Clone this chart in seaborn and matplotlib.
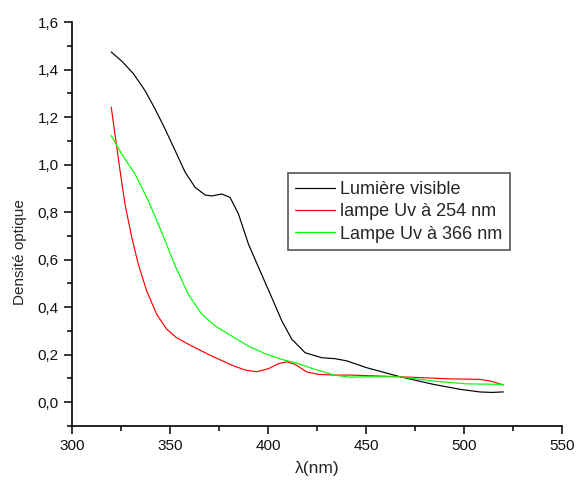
import numpy as np
import pandas as pd
import seaborn as sns
from matplotlib import pyplot as plt
from matplotlib.ticker import MultipleLocator, FuncFormatter

# spectra
wl_visible = [320, 325.3, 331.3, 337.2, 342.3, 347.4, 352.6, 357.7, 362.8, 367.9, 371.3,
              376.4, 380.6, 384.9, 390, 395.9, 401.9, 407, 412.1, 418.9, 427.4, 434.2,
              440, 450.3, 467.3, 484.3, 498, 508, 514, 520]
od_visible = [1.474, 1.436, 1.383, 1.312, 1.235, 1.151, 1.059, 0.968, 0.904, 0.872, 0.868,
              0.876, 0.862, 0.792, 0.665, 0.553, 0.44, 0.342, 0.265, 0.208, 0.187, 0.183,
              0.174, 0.145, 0.107, 0.075, 0.054, 0.043, 0.041, 0.043]

wl_uv254 = [320, 321.9, 324.5, 327, 330.5, 333.8, 338.1, 343.2, 348.3, 353.4, 361.1,
            371.3, 381.5, 388.3, 394.2, 400.2, 405.3, 409.5, 413.8, 419.7, 425.7, 434.2,
            442, 467, 493, 508, 514, 520]
od_uv254 = [1.242, 1.129, 0.975, 0.834, 0.693, 0.581, 0.468, 0.37, 0.307, 0.271, 0.236,
            0.194, 0.156, 0.135, 0.128, 0.141, 0.162, 0.17, 0.159, 0.127, 0.117, 0.114,
            0.114, 0.107, 0.098, 0.096, 0.088, 0.072]

wl_uv366 = [320, 325.3, 332.1, 338.9, 345.8, 352.6, 359.3, 366.2, 373, 381.5, 390, 398.5,
            407, 415.5, 424, 434.2, 442, 450, 467, 484, 501, 520]
od_uv366 = [1.122, 1.045, 0.961, 0.848, 0.714, 0.574, 0.454, 0.37, 0.321, 0.278, 0.236,
            0.204, 0.18, 0.162, 0.138, 0.113, 0.105, 0.107, 0.107, 0.089, 0.077, 0.075]

labels = ['Lumière visible', 'lampe Uv à 254 nm', 'Lampe Uv à 366 nm']
colors = ['black', '#ff0000', '#00ff00']

sns.set_theme(style='ticks')
plt.rcParams['font.family'] = ['Liberation Sans', 'DejaVu Sans']

fig = plt.figure(figsize=(5.76, 4.84), dpi=100)
ax = fig.add_axes([0.125, 0.12, 0.851, 0.8345])

for wl, od, lab, col in zip([wl_visible, wl_uv254, wl_uv366],
                            [od_visible, od_uv254, od_uv366], labels, colors):
    sns.lineplot(x=wl, y=od, color=col, label=lab, linewidth=0.85, ax=ax)

ax.set_xlim(300, 550)
ax.set_ylim(-0.1, 1.6)
ax.xaxis.set_major_locator(MultipleLocator(50))
ax.xaxis.set_minor_locator(MultipleLocator(25))
ax.yaxis.set_major_locator(MultipleLocator(0.2))
ax.yaxis.set_minor_locator(MultipleLocator(0.1))
ax.yaxis.set_major_formatter(FuncFormatter(lambda v, p: f'{v:.1f}'.replace('.', ',').replace('-0,0', '0,0')))
ax.tick_params(which='major', length=6, width=1.1, labelsize=11, color='black', labelcolor='#111111')
ax.tick_params(which='minor', length=3.5, width=1.1, color='black')
for s in ['left', 'bottom']:
    ax.spines[s].set_linewidth(1.2)
    ax.spines[s].set_color('black')
sns.despine(ax=ax)

ax.set_xlabel('λ(nm)', fontsize=12.5, labelpad=6)
ax.set_ylabel('Densité optique', fontsize=11)
ax.yaxis.set_label_coords(-0.092, 0.43)

leg = ax.legend(loc='upper left', bbox_to_anchor=(0.440, 0.6255), fontsize=13,
                frameon=True, fancybox=False, edgecolor='#555555', framealpha=1,
                handlelength=2.2, handletextpad=0.3, borderpad=0.42, labelspacing=0.3,
                borderaxespad=0)
leg.get_frame().set_linewidth(1.2)

plt.savefig('out.png', dpi=100)
